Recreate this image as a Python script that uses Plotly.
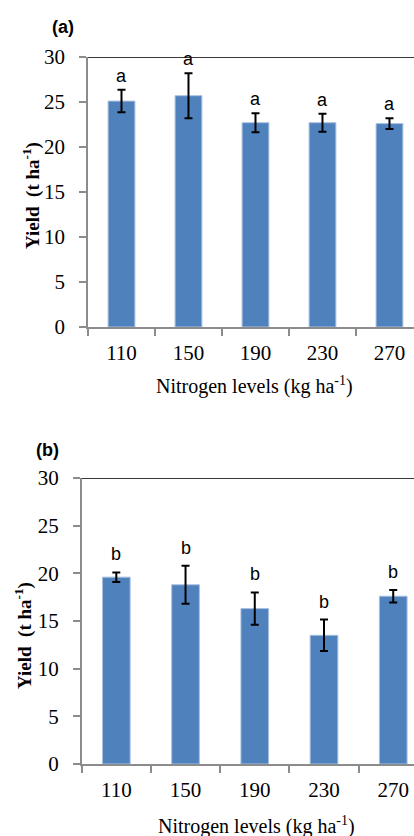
import plotly.graph_objects as go

# ---- data ----
categories = ["110", "150", "190", "230", "270"]
yield_a = [25.1, 25.7, 22.7, 22.7, 22.6]
err_a = [1.25, 2.5, 1.05, 1.0, 0.6]
letters_a = ["a", "a", "a", "a", "a"]

yield_b = [19.6, 18.8, 16.3, 13.5, 17.6]
err_b = [0.5, 2.0, 1.7, 1.65, 0.65]
letters_b = ["b", "b", "b", "b", "b"]

y_ticks = [0, 5, 10, 15, 20, 25, 30]

W, H = 414, 836
BAR = "#4F81BD"
AXC = "#8C8C8C"
SERIF = "Liberation Serif, Times New Roman, serif"
SANS = "Liberation Sans, Arial, sans-serif"


def px_x(x):
    return x / W


def px_y(y):
    return 1 - y / H


fig = go.Figure()

panels = [
    dict(vals=yield_a, errs=err_a, letters=letters_a, xa="x", ya="y",
         left=88, top=57, bottom=327, right_range=4.366, lshift=2),
    dict(vals=yield_b, errs=err_b, letters=letters_b, xa="x2", ya="y2",
         left=81.7, top=478, bottom=764, right_range=4.30, lshift=6),
]

annotations = []
shapes = []
for i, p in enumerate(panels):
    fig.add_trace(go.Bar(
        x=categories, y=p["vals"], xaxis=p["xa"], yaxis=p["ya"],
        width=0.4, marker=dict(color=BAR, line=dict(color="#A9C0DE", width=1)),
        error_y=dict(type="data", array=p["errs"], visible=True,
                     color="black", thickness=2, width=4),
        showlegend=False, hoverinfo="skip",
    ))
    yref = p["ya"]
    xref = p["xa"]
    for k, (v, e, L) in enumerate(zip(p["vals"], p["errs"], p["letters"])):
        annotations.append(dict(
            x=k, y=v + e, xref=xref, yref=yref, text=L, showarrow=False,
            xanchor="center", yanchor="bottom", yshift=p["lshift"],
            font=dict(family=SANS, size=18, color="black"),
        ))
    # dark top border
    shapes.append(dict(type="line", xref=f"{xref} domain", yref=yref,
                       x0=0, x1=1, y0=30, y1=30,
                       line=dict(color="#3A3A3A", width=2)))

axis_common = dict(
    showgrid=False, zeroline=False, showline=True, linecolor=AXC, linewidth=1.5,
    ticks="outside", tickcolor=AXC, ticklen=7, tickwidth=1.5, automargin=False,
    tickfont=dict(family=SERIF, size=21, color="black"),
)

layout = dict(
    width=W, height=H, margin=dict(l=0, r=0, t=0, b=0),
    paper_bgcolor="white", plot_bgcolor="white", bargap=0.6,
)
for i, p in enumerate(panels):
    sfx = "" if i == 0 else "2"
    layout[f"xaxis{sfx}"] = dict(
        axis_common, domain=[px_x(p["left"]), 1], anchor=f"y{sfx}",
        type="category", range=[-0.5, p["right_range"]], tickson="boundaries",
        ticklabelstandoff=6,
    )
    layout[f"yaxis{sfx}"] = dict(
        axis_common, domain=[px_y(p["bottom"]), px_y(p["top"])], anchor=f"x{sfx}",
        range=[0, 30], tickvals=y_ticks, ticklabelstandoff=10,
    )


def lab(x, y, text, size, family, angle=0):
    return dict(x=px_x(x), y=px_y(y), xref="paper", yref="paper", text=text,
                showarrow=False, xanchor="center", yanchor="middle",
                textangle=angle, font=dict(family=family, size=size, color="black"))


annotations += [
    lab(63, 27, "<b>(a)</b>", 18, SANS),
    lab(47, 450, "<b>(b)</b>", 18, SANS),
    lab(255, 385, "Nitrogen levels (kg ha<sup>-1</sup>)", 20, SERIF),
    lab(256, 825, "Nitrogen levels (kg ha<sup>-1</sup>)", 20, SERIF),
    lab(31, 196, "<b>Yield  (t ha<sup>-1</sup>)</b>", 19, SERIF, -90),
    lab(23, 636, "<b>Yield  (t ha<sup>-1</sup>)</b>", 19, SERIF, -90),
]
layout["annotations"] = annotations
layout["shapes"] = shapes

fig.update_layout(**layout)
fig.write_html("out.html")
